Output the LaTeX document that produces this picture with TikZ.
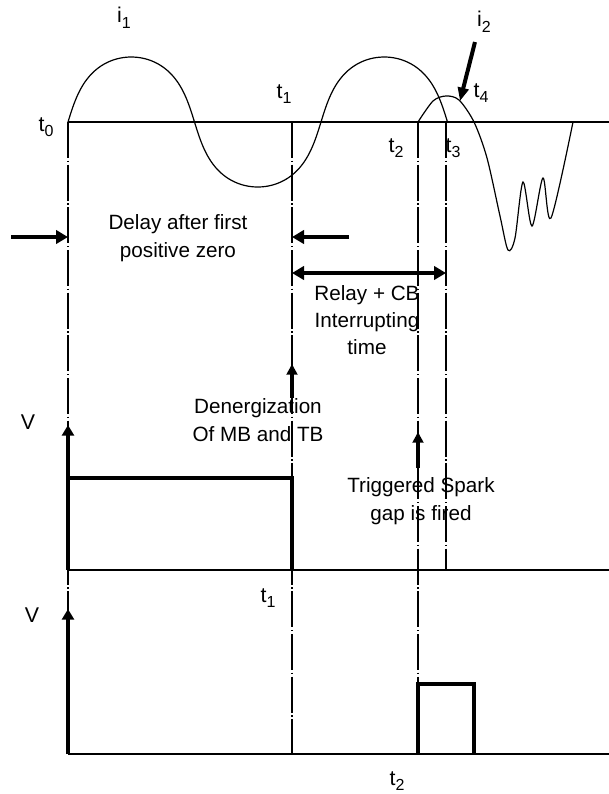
\documentclass[tikz,border=0pt]{standalone}
\usepackage{fontspec}
\setmainfont{Liberation Sans}
\usetikzlibrary{arrows.meta}
\newcommand\lowsub[1]{\raisebox{-0.5ex}{\fontsize{12pt}{12pt}\selectfont #1}}
\begin{document}
\begin{tikzpicture}[x=0.75pt,y=-0.75pt,
  thinline/.style={line width=0.9pt},
  dashline/.style={line width=0.8pt, dash pattern=on 27pt off 2pt on 1pt off 2pt},
  thickline/.style={line width=3pt, line join=miter},
  bigarrow/.style={line width=3.6pt,-{Triangle[length=9pt,width=10pt]}},
  dblarrow/.style={line width=3.2pt,{Triangle[length=9pt,width=10pt]}-{Triangle[length=9pt,width=10pt]}},
  axarrow/.style={line width=3pt,-{Triangle[length=8pt,width=9pt]}},
  smallarrow/.style={line width=2.4pt,-{Triangle[length=8pt,width=8pt]}},
  lbl/.style={font=\fontsize{15.5pt}{20.5pt}\selectfont, inner sep=0pt, align=center},
  tlbl/.style={font=\fontsize{16pt}{18pt}\selectfont, inner sep=0pt},
]
\path[use as bounding box] (0,0) rectangle (609,794);

% key coordinates
\coordinate (t0a) at (68,122);
\coordinate (axR) at (609,122);
\coordinate (t1a) at (292,122);
\coordinate (t2a) at (418,122);
\coordinate (t3a) at (446,122);
\coordinate (m0) at (68,570);
\coordinate (mR) at (609,570);
\coordinate (m1) at (292,570);
\coordinate (m3) at (446,570);
\coordinate (b0) at (68,754);
\coordinate (bR) at (609,754);
\coordinate (b1) at (292,754);
\coordinate (b2) at (418,754);

% axes
\draw[thinline] (t0a) -- (axR);
\draw[thinline] (m0) -- (mR);
\draw[thinline] (b0) -- (bR);

% dash-dot vertical lines
\draw[dashline] (t0a) -- (b0);
\draw[dashline] (t1a) -- (b1);
\draw[dashline] (t2a) -- (b2);
\draw[dashline] (t3a) -- (m3);

% current i1 (rounded sine, steep at zero crossings)
\draw[thinline] plot[domain=0:540, samples=200, smooth]
  ({68+126.5*(\x/180 - 0.5*sin(2*\x)/(2*pi))}, {122-65*sin(\x)});

% current i2
\draw[thinline] plot[smooth, tension=0.5] coordinates {
  (418,122) (433,101) (446,96) (459,100) (474,122) (487,158) (500,216) (508,250)
  (515,238) (523,182) (532,226) (543,178) (551,218) (573,122)};

% i2 arrow
\coordinate (i2s) at (475,42);
\coordinate (i2e) at (460,101);
\draw[line width=3pt,-{Triangle[length=10pt,width=8pt]}] (i2s) -- (i2e);

% delay arrows
\coordinate (dLs) at (11,237);
\coordinate (dRs) at (349,237);
\coordinate (d0) at (68,237);
\coordinate (d1) at (292,237);
\draw[bigarrow] (dLs) -- (d0);
\draw[bigarrow] (dRs) -- (d1);

% relay + CB interrupting double arrow
\coordinate (r1) at (292,273);
\coordinate (r3) at (446,273);
\draw[dblarrow] (r1) -- (r3);

% middle plot: relay signal
\coordinate (v1top) at (68,425);
\draw[axarrow] (m0) -- (v1top);
\draw[thickline] (68,478) -- (292,478) -- (m1);

% denergization arrow
\coordinate (de1) at (292,398);
\coordinate (de2) at (292,364);
\draw[smallarrow] (de1) -- (de2);

% spark arrow
\coordinate (sp1) at (418,468);
\coordinate (sp2) at (418,432);
\draw[smallarrow] (sp1) -- (sp2);

% bottom plot: trigger pulse
\coordinate (v2top) at (68,609);
\draw[axarrow] (b0) -- (v2top);
\draw[thickline] (b2) -- (418,684) -- (474,684) -- (474,754);

% labels
\node[tlbl] (li1) at (124,18) {i\lowsub{1}};
\node[tlbl] (li2) at (484,22) {i\lowsub{2}};
\node[tlbl] (lt0) at (46,127) {t\lowsub{0}};
\node[tlbl] (lt1) at (284,94) {t\lowsub{1}};
\node[tlbl] (lt2) at (396,148) {t\lowsub{2}};
\node[tlbl] (lt3) at (453,148) {t\lowsub{3}};
\node[tlbl] (lt4) at (481,93) {t\lowsub{4}};
\node[tlbl] (lt1m) at (268,598) {t\lowsub{1}};
\node[tlbl] (lt2b) at (397,781) {t\lowsub{2}};
\node[tlbl] (lv1) at (28,422) {V};
\node[tlbl] (lv2) at (32,615) {V};

\node[lbl] (delay) at (178,238) {Delay after first\\positive zero};
\node[lbl] (relay) at (367,320) {Relay + CB\\Interrupting\\time};
\node[lbl] (dener) at (258,420) {Denergization\\Of MB and TB};
\node[lbl] (spark) at (421,501) {Triggered Spark\\gap is fired};
\end{tikzpicture}
\end{document}
